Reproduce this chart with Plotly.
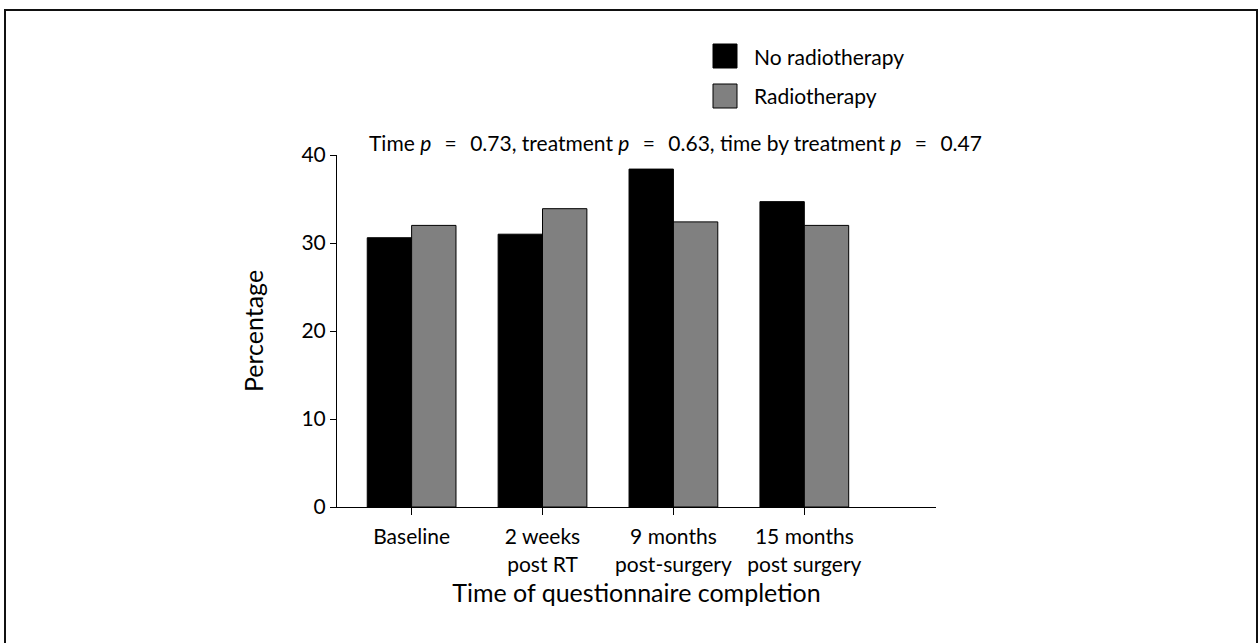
import plotly.graph_objects as go

categories = ["Baseline", "2 weeks<br>post RT", "9 months<br>post-surgery", "15 months<br>post surgery"]
series_names = ["No radiotherapy", "Radiotherapy"]
no_rt = [30.6, 31.0, 38.4, 34.7]
rt = [32.0, 33.9, 32.4, 32.0]
y_ticks = [0, 10, 20, 30, 40]

colors = ["#000000", "#808080"]
FONT = "Lato"
FS = 21

# plot area on screen: x 337..936, y 155..507
PX0, PY0, PW, PH = 337, 507, 599, 352


def px(x):
    return (x - PX0) / PW


def py(y):
    return (PY0 - y) / PH


fig = go.Figure()
for name, vals, col in zip(series_names, [no_rt, rt], colors):
    fig.add_trace(go.Bar(
        x=list(range(len(categories))), y=vals, name=name,
        marker=dict(color=col, line=dict(color="#000000", width=1)),
        showlegend=False,
    ))

fig.update_layout(
    width=1259, height=643,
    margin=dict(l=337, r=323, t=155, b=136),
    paper_bgcolor="white", plot_bgcolor="white",
    barmode="group", bargap=0.322, bargroupgap=0,
    font=dict(family=FONT, size=FS, color="black"),
)
fig.update_xaxes(
    range=[-0.57, 4.006],
    tickmode="array", tickvals=list(range(len(categories))), ticktext=categories,
    ticks="outside", ticklen=7, tickcolor="black", tickwidth=1,
    ticklabelstandoff=4,
    showline=True, linecolor="black", linewidth=1,
    showgrid=False, zeroline=False,
    title=dict(text="Time of questionnaire completion", standoff=9),
)
fig.update_yaxes(
    range=[0, 40],
    tickmode="array", tickvals=y_ticks,
    ticks="outside", ticklen=6, tickcolor="black", tickwidth=1,
    showline=True, linecolor="black", linewidth=1,
    showgrid=False, zeroline=False,
    title=dict(text="Percentage", standoff=30),
)

# p-value heading
eq = "\u00a0\u00a0\u2009=\u2009\u00a0\u00a0"
fig.add_annotation(
    text=f"Time <i>p</i>{eq}0.73, treatment <i>p</i>{eq}0.63, time by treatment <i>p</i>{eq}0.47",
    xref="paper", yref="paper", x=px(675), y=py(143),
    xanchor="center", yanchor="middle", showarrow=False, font=dict(size=FS),
)

# legend with large swatches
for i, (name, col) in enumerate(zip(series_names, colors)):
    yc = 56 + i * 40
    fig.add_shape(
        type="rect", xref="paper", yref="paper",
        x0=px(713), x1=px(737), y0=py(yc - 12), y1=py(yc + 12),
        fillcolor=col, line=dict(color="#000000", width=1),
    )
    fig.add_annotation(
        text=name, xref="paper", yref="paper", x=px(752), y=py(yc),
        xanchor="left", yanchor="middle", showarrow=False, font=dict(size=FS),
    )

# outer frame
fig.add_shape(
    type="rect", xref="paper", yref="paper",
    x0=px(5), x1=px(1257), y0=py(660), y1=py(10),
    line=dict(color="#111111", width=2), fillcolor="rgba(0,0,0,0)",
)

fig.write_html("out.html", config={"displayModeBar": False},
               post_script="document.body.style.margin='0';")
